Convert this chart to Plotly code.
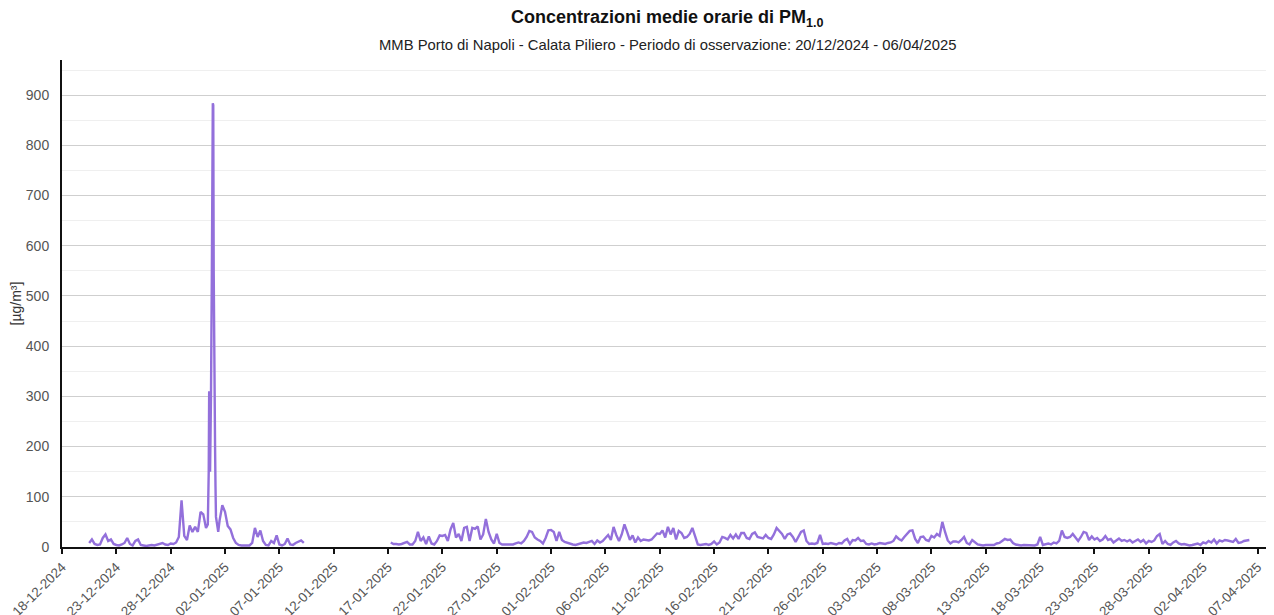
import pandas as pd
import plotly.graph_objects as go

# ---- data (µg/m³) ----
seg1a_start = "2024-12-20 12:00"
seg1a = [8, 15, 6, 4, 5, 18, 25, 12, 15, 6, 4, 3, 5, 8, 18, 6, 3, 12, 15, 4,
         3, 2, 3, 4, 3, 5, 6, 8, 5, 4, 7, 6, 9, 20, 93, 22, 14, 43, 30, 40,
         30, 70, 65, 38]

peak_times = ["2024-12-31 10:00", "2024-12-31 12:00", "2024-12-31 13:00", "2024-12-31 14:00",
              "2024-12-31 15:00", "2024-12-31 16:00", "2024-12-31 17:00", "2024-12-31 19:00",
              "2024-12-31 21:00", "2024-12-31 22:00", "2024-12-31 23:00", "2025-01-01 00:00",
              "2025-01-01 01:00", "2025-01-01 02:00", "2025-01-01 03:00", "2025-01-01 04:00",
              "2025-01-01 06:00", "2025-01-01 09:00"]
peak_vals = [45, 150, 310, 290, 150, 200, 300, 560, 884, 880, 550, 350, 213, 200, 120, 60, 48, 30]

seg1c_start = "2025-01-01 12:00"
seg1c = [53, 83, 70, 42, 35, 18, 8, 4, 3, 3, 2, 3, 8, 38, 20, 33, 12, 4, 3, 12,
         8, 23, 5, 3, 6, 17, 5, 4, 8, 11, 13, 8]

gap_time = "2025-01-13 00:00"

seg2_start = "2025-01-17 06:00"
seg2_a = [9, 6, 6, 5, 6, 8, 10, 5, 5, 12, 30, 12, 19, 6, 21, 7, 5, 12, 23, 22,
          24, 12, 35, 48, 19, 26, 12, 38, 40, 12, 38, 36, 41, 15, 25, 56, 30, 15, 7, 26,
          8, 5, 5, 5, 6, 5, 7, 9, 7, 12, 20, 32, 30, 19, 15, 12, 7, 18, 33, 34,
          30, 12, 30, 14, 10, 8, 6, 5, 4, 6, 7, 9, 8, 10, 12, 6, 13]
seg2_b = [9, 12, 18, 24, 14, 40, 24, 12, 25, 45, 30, 14, 23, 9, 19, 12, 15, 14, 13, 15,
          21, 27, 26, 33, 19, 40, 25, 38, 15, 32, 28, 18, 20, 26, 38, 20, 5, 4, 5, 6,
          4, 6, 11, 5, 9, 20, 18, 15, 24, 17, 25, 16, 28, 28, 18, 16, 26, 29, 20, 18,
          17, 24, 18, 16, 25, 38, 32, 26, 16, 25, 27, 20, 10, 20, 30, 33, 12, 6]
seg2_c = [7, 6, 8, 24, 6, 7, 6, 8, 6, 5, 8, 7, 13, 16, 6, 14, 13, 18, 12, 13,
          6, 5, 7, 5, 6, 8, 7, 6, 8, 9, 12, 21, 16, 13, 20, 27, 32, 33, 16, 8,
          20, 21, 14, 12, 22, 19, 26, 22, 50, 30, 13, 7, 11, 11, 9, 14, 20, 8, 5, 14,
          9, 5, 4, 3, 4, 4, 3, 4, 7, 8, 12, 16, 14, 15, 8, 5, 4, 3, 4, 4]
seg2_d = [4, 4, 3, 5, 20, 4, 5, 7, 5, 9, 7, 12, 33, 20, 18, 20, 26, 20, 12, 20,
          30, 28, 14, 21, 15, 18, 12, 15, 22, 14, 16, 9, 14, 17, 12, 14, 11, 14, 9, 12,
          15, 10, 14, 7, 12, 10, 13, 22, 26, 6, 12, 6, 4, 9, 12, 7, 5, 6, 4, 3,
          4, 5, 7, 4, 9, 7, 12, 9, 15, 7, 13, 11, 14, 13, 12, 10, 16, 8, 9, 12,
          13, 14]

y_ticks = [0, 100, 200, 300, 400, 500, 600, 700, 800, 900]

# ---- assemble series ----
times = []
vals = []
times += list(pd.date_range(seg1a_start, periods=len(seg1a), freq="6h"))
vals += seg1a
times += list(pd.to_datetime(peak_times))
vals += peak_vals
times += list(pd.date_range(seg1c_start, periods=len(seg1c), freq="6h"))
vals += seg1c
times.append(pd.Timestamp(gap_time))
vals.append(None)
seg2 = seg2_a + seg2_b + seg2_c + seg2_d
times += list(pd.date_range(seg2_start, periods=len(seg2), freq="6h"))
vals += seg2

FONT = "Liberation Sans, Arial, sans-serif"

fig = go.Figure()
fig.add_trace(go.Scatter(
    x=times, y=vals, mode="lines",
    line=dict(color="#9370DB", width=2.4),
    connectgaps=False, showlegend=False,
))

# page body adds an 8px offset; sizes compensate for it
fig.update_layout(
    width=1266, height=607,
    margin=dict(l=54, r=2, t=52, b=68),
    paper_bgcolor="white", plot_bgcolor="white",
    font=dict(family=FONT, color="#555", size=13),
    showlegend=False,
)

fig.add_annotation(
    text="<b>Concentrazioni medie orarie di PM<sub>1.0</sub></b>",
    xref="paper", yref="paper", x=0.5, y=1, yshift=28,
    showarrow=False, font=dict(family=FONT, size=18, color="#111"),
    xanchor="center", yanchor="bottom",
)
fig.add_annotation(
    text="MMB Porto di Napoli - Calata Piliero - Periodo di osservazione: 20/12/2024 - 06/04/2025",
    xref="paper", yref="paper", x=0.5, y=1, yshift=5,
    showarrow=False, font=dict(family=FONT, size=14.8, color="#222"),
    xanchor="center", yanchor="bottom",
)

fig.update_xaxes(
    type="date", automargin=False,
    range=["2024-12-18 00:00", "2025-04-08 08:00"],
    tick0="2024-12-18", dtick=5 * 86400000,
    tickformat="%d-%m-%Y", tickangle=-45,
    ticks="outside", ticklen=5, tickwidth=1.5, tickcolor="#111",
    showline=True, linecolor="#111", linewidth=2,
    showgrid=False, zeroline=False,
    tickfont=dict(family=FONT, size=13.5, color="#555"),
)
fig.update_yaxes(
    automargin=False,
    range=[0, 970],
    tickvals=y_ticks,
    ticks="outside", ticklen=8, tickcolor="rgba(0,0,0,0)",
    showline=True, linecolor="#111", linewidth=2,
    showgrid=True, gridcolor="#cfcfcf", gridwidth=1,
    minor=dict(dtick=50, tick0=0, showgrid=True, gridcolor="#efefef", gridwidth=1, ticks=""),
    zeroline=False,
    tickfont=dict(family=FONT, size=14, color="#555"),
    title=dict(text="[µg/m³]", font=dict(family=FONT, size=14, color="#333"), standoff=12),
)

fig.write_html("out.html")
